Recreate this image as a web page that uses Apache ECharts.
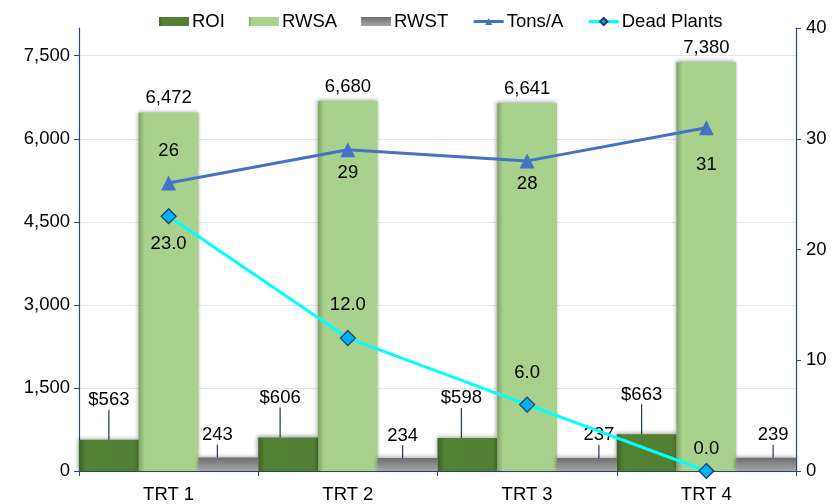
<!DOCTYPE html>
<html>
<head>
<meta charset="utf-8">
<script src="https://cdn.jsdelivr.net/npm/echarts@6/dist/echarts.min.js"></script>
<style>
  html, body { margin: 0; padding: 0; background: #fff; }
  #chart { width: 835px; height: 504px; }
</style>
</head>
<body>
<div id="chart"></div>
<script>
// data
const categories = ['TRT 1', 'TRT 2', 'TRT 3', 'TRT 4']
const roi = [563, 606, 598, 663]
const rwsa = [6472, 6680, 6641, 7380]
const rwst = [243, 234, 237, 239]
const tonsPerAcre = [26, 29, 28, 31]
const deadPlants = [23, 12, 6, 0]

// label nudges (layout only)
const roiLabelDx = [0, -8, -6, -5]
const rwstLabelDx = [-11, -5, 12, 7]
const tonsLabelPos = ['top', 'bottom', 'bottom', 'bottom']
const tonsLabelDist = [15, 6, 6, 20]
const deadLabelPos = ['bottom', 'top', 'top', 'top']
const deadLabelDist = [10, 16, 14, 4]

const font = 'Liberation Sans, Arial, sans-serif'
const fs = 18.5
const axisColor = '#2f4483'

const chart = echarts.init(document.getElementById('chart'))

const leader = {show: true, lineStyle: {color: '#1f3864', width: 1.2}}

chart.setOption({
    animation: false,
    textStyle: {fontFamily: font},
    legend: {
        top: 7,
        left: 154,
        itemGap: 24,
        itemWidth: 30,
        itemHeight: 9,
        textStyle: {fontSize: fs, color: '#000', fontFamily: font, padding: [0, 0, 0, -2]},
        data: [
            {name: 'ROI', icon: 'rect'},
            {name: 'RWSA', icon: 'rect'},
            {name: 'RWST', icon: 'rect'},
            {name: 'Tons/A', lineStyle: {width: 3}},
            {name: 'Dead Plants', lineStyle: {width: 3}}
        ]
    },
    grid: {left: 79, right: 39, top: 28, bottom: 33},
    xAxis: {
        type: 'category',
        data: categories,
        axisLine: {lineStyle: {color: axisColor, width: 1.2}},
        axisTick: {show: true, alignWithLabel: false, length: 5, lineStyle: {color: axisColor}},
        axisLabel: {fontSize: fs, color: '#000', margin: 14}
    },
    yAxis: [
        {
            type: 'value',
            min: 0,
            max: 8000,
            interval: 1500,
            axisLine: {show: true, lineStyle: {color: axisColor, width: 1.2}},
            axisTick: {show: true, length: 5, lineStyle: {color: axisColor}},
            axisLabel: {
                fontSize: fs, color: '#000', margin: 9, showMaxLabel: false,
                formatter: v => v.toLocaleString('en-US')
            },
            splitLine: {lineStyle: {color: ['#dfe5f3', '#dfe5f3', '#dfe5f3', '#dfe5f3', '#dfe5f3', '#dfe5f3', 'rgba(0,0,0,0)']}}
        },
        {
            type: 'value',
            min: 0,
            max: 40,
            interval: 10,
            axisLine: {show: true, lineStyle: {color: axisColor, width: 1.2}},
            axisTick: {show: true, length: 5, lineStyle: {color: axisColor}},
            axisLabel: {fontSize: fs, color: '#000', margin: 10},
            splitLine: {show: false}
        }
    ],
    series: [
        {
            name: 'ROI',
            type: 'bar',
            barGap: '0%',
            barCategoryGap: '0%',
            data: roi,
            itemStyle: {
                color: new echarts.graphic.LinearGradient(0, 0, 1, 0, [
                    {offset: 0, color: '#3e6327'},
                    {offset: 0.12, color: '#548235'},
                    {offset: 1, color: '#527f33'}
                ]),
                shadowColor: 'rgba(0,0,0,0.35)', shadowBlur: 4, shadowOffsetX: -1, shadowOffsetY: -1
            },
            label: {
                show: true, position: 'top', fontSize: fs, color: '#000',
                formatter: p => '$' + p.value
            },
            labelLayout: p => ({dx: roiLabelDx[p.dataIndex], dy: -25}),
            labelLine: leader
        },
        {
            name: 'RWSA',
            type: 'bar',
            data: rwsa,
            itemStyle: {
                color: new echarts.graphic.LinearGradient(0, 0, 1, 0, [
                    {offset: 0, color: '#7ea464'},
                    {offset: 0.1, color: '#a9d18e'},
                    {offset: 1, color: '#a9d18e'}
                ]),
                shadowColor: 'rgba(0,0,0,0.35)', shadowBlur: 4, shadowOffsetX: -1, shadowOffsetY: -1
            },
            label: {
                show: true, position: 'top', distance: 5, fontSize: fs, color: '#000',
                formatter: p => p.value.toLocaleString('en-US')
            }
        },
        {
            name: 'RWST',
            type: 'bar',
            data: rwst,
            itemStyle: {
                color: new echarts.graphic.LinearGradient(0, 0, 0, 1, [
                    {offset: 0, color: '#6e6e6e'},
                    {offset: 1, color: '#a6a6a6'}
                ]),
                shadowColor: 'rgba(0,0,0,0.35)', shadowBlur: 4, shadowOffsetX: -1, shadowOffsetY: -1
            },
            label: {show: true, position: 'top', fontSize: fs, color: '#000'},
            labelLayout: p => ({dx: rwstLabelDx[p.dataIndex], dy: -8}),
            labelLine: leader
        },
        {
            name: 'Tons/A',
            type: 'line',
            yAxisIndex: 1,
            z: 5,
            data: tonsPerAcre.map((v, i) => ({value: v, label: {position: tonsLabelPos[i], distance: tonsLabelDist[i]}})),
            symbol: 'triangle',
            symbolSize: 15,
            lineStyle: {color: '#4472c4', width: 3},
            itemStyle: {color: '#4472c4'},
            label: {show: true, fontSize: fs, color: '#000'}
        },
        {
            name: 'Dead Plants',
            type: 'line',
            yAxisIndex: 1,
            z: 6,
            data: deadPlants.map((v, i) => ({value: v, label: {position: deadLabelPos[i], distance: deadLabelDist[i]}})),
            symbol: 'diamond',
            symbolSize: 15,
            lineStyle: {color: '#00ffff', width: 3},
            itemStyle: {color: '#00b0f0', borderColor: '#1f3864', borderWidth: 1.2},
            label: {show: true, fontSize: fs, color: '#000', formatter: p => p.value.toFixed(1)}
        }
    ]
})
</script>
</body>
</html>
